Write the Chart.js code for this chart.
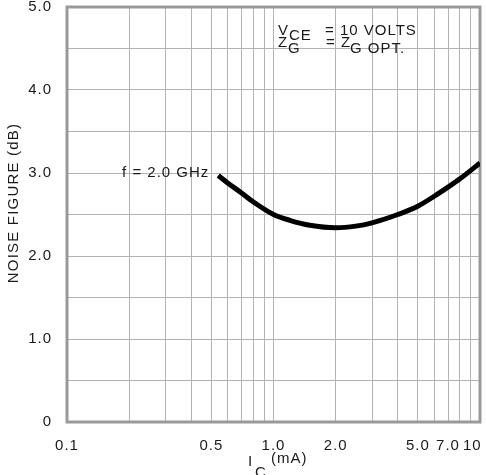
<!DOCTYPE html>
<html><head><meta charset="utf-8">
<script src="https://cdn.jsdelivr.net/npm/chart.js@4.4.1/dist/chart.umd.min.js"></script>
<style>html,body{margin:0;padding:0;background:#fff}#wrap{width:486px;height:475px}</style>
</head><body><div id="wrap"><canvas id="c" width="486" height="475"></canvas></div>
<script>
const currentMA = [0.54, 0.6, 0.7, 0.8, 1.0, 1.2, 1.5, 2.0, 2.5, 3.0, 4.0, 5.0, 6.0, 7.0, 8.0, 10.0];
const noiseFigure = [2.97, 2.88, 2.76, 2.65, 2.50, 2.43, 2.37, 2.34, 2.36, 2.40, 2.50, 2.60, 2.72, 2.83, 2.93, 3.12];
const xGridValues = [0.1,0.2,0.3,0.4,0.5,0.6,0.7,0.8,0.9,1,2,3,4,5,6,7,8,9,10];
const xTickLabels = {0.1:'0.1',0.5:'0.5',1:'1.0',2:'2.0',5:'5.0',7:'7.0',10:'10'};
const yTickLabels = {0:'0',1:'1.0',2:'2.0',3:'3.0',4:'4.0',5:'5.0'};
const curveLabel = 'f = 2.0 GHz';

const FONT = '"Liberation Sans", Arial, sans-serif';
const gridColor = '#b3b3b3';
const txt = '#1a1a1a';

const annot = {
  id: 'annot',
  beforeDraw(chart) {
    chart.ctx.letterSpacing = '1px';
  },
  beforeDatasetsDraw(chart) {
    const {ctx, chartArea: a} = chart;
    ctx.save();
    ctx.strokeStyle = '#9a9a9a';
    ctx.lineWidth = 3;
    ctx.strokeRect(a.left, a.top, a.right - a.left, a.bottom - a.top);
    ctx.restore();
  },
  afterDraw(chart) {
    const {ctx} = chart;
    const xs = chart.scales.x, ys = chart.scales.y;
    ctx.save();
    ctx.letterSpacing = '1px';
    ctx.fillStyle = txt;
    ctx.font = '15px ' + FONT;
    ctx.textBaseline = 'alphabetic';
    // curve label
    ctx.textAlign = 'right';
    ctx.fillText(curveLabel, xs.getPixelForValue(0.5) - 2, ys.getPixelForValue(3.0) + 4);
    // conditions
    ctx.textAlign = 'left';
    const x0 = 278;
    ctx.fillText('V', x0, 35);
    ctx.fillText('CE', x0 + 11, 40);
    ctx.fillText('= 10 VOLTS', 325, 35);
    ctx.fillText('Z', x0, 47);
    ctx.fillText('G', x0 + 10, 53);
    ctx.fillText('= Z', 326, 47);
    ctx.fillText('G OPT.', 350, 53);
    // x title
    ctx.fillText('I', 248, 466);
    ctx.fillText('C', 255, 477);
    ctx.fillText('(mA)', 271, 463);
    // y title
    ctx.translate(18, 203);
    ctx.rotate(-Math.PI / 2);
    ctx.textAlign = 'center';
    ctx.letterSpacing = '1.2px';
    ctx.fillText('NOISE FIGURE (dB)', 0, 0);
    ctx.restore();
  }
};

new Chart(document.getElementById('c'), {
  type: 'line',
  data: {
    datasets: [{
      data: currentMA.map((x, i) => ({x, y: noiseFigure[i]})),
      borderColor: '#000',
      borderWidth: 5,
      pointRadius: 0,
      cubicInterpolationMode: 'monotone',
      fill: false
    }]
  },
  options: {
    responsive: false,
    animation: false,
    events: [],
    layout: {padding: {top: 7, right: 6, left: 0, bottom: 0}},
    plugins: {legend: {display: false}, tooltip: {enabled: false}},
    scales: {
      x: {
        type: 'logarithmic', min: 0.1, max: 10,
        afterBuildTicks(s) { s.ticks = xGridValues.map(v => ({value: v})); },
        afterFit(s) { s.height = 53; s.paddingLeft = 0; s.paddingRight = 0; },
        grid: {color: gridColor, lineWidth: 1, drawTicks: false},
        border: {display: false},
        ticks: {
          autoSkip: false, maxRotation: 0, padding: 15,
          color: txt, font: {family: FONT, size: 15},
          callback(v) {
            if (xTickLabels[v] === undefined) return '';
            return v === 10 ? xTickLabels[v] + '   ' : xTickLabels[v];
          }
        }
      },
      y: {
        min: 0, max: 5,
        afterBuildTicks(s) { const t=[]; for (let i=0;i<=10;i++) t.push({value:i/2}); s.ticks=t; },
        afterFit(s) { s.width = 67; s.paddingTop = 0; s.paddingBottom = 0; },
        grid: {color: gridColor, lineWidth: 1, drawTicks: false},
        border: {display: false},
        ticks: {
          autoSkip: false, padding: 15,
          color: txt, font: {family: FONT, size: 15},
          callback(v) { return yTickLabels[v] !== undefined ? yTickLabels[v] : ''; }
        }
      }
    }
  },
  plugins: [annot]
});
</script></body></html>
